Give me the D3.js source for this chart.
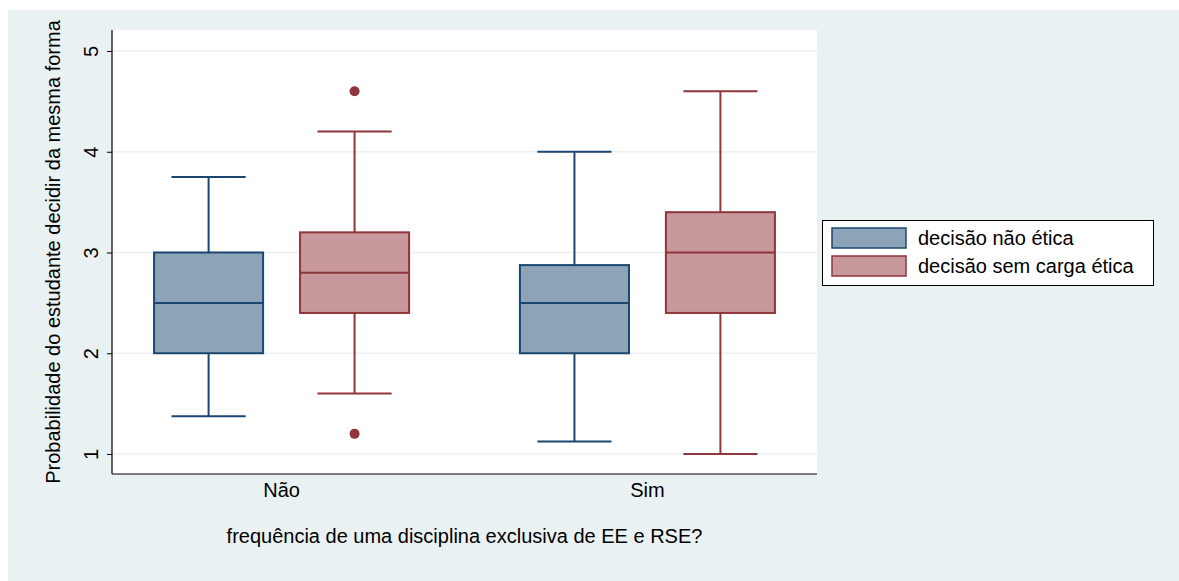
<!DOCTYPE html>
<html>
<head>
<meta charset="utf-8">
<script src="https://cdn.jsdelivr.net/npm/d3@7/dist/d3.min.js"></script>
<style>
  html, body { margin: 0; padding: 0; background: #ffffff; }
  svg { display: block; font-family: "Liberation Sans", Arial, Helvetica, sans-serif; }
</style>
</head>
<body>
<svg id="chart" width="1179" height="581"></svg>
<script>
// Groups on the x axis and the two series drawn in each group
const groups = ["Não", "Sim"];
const seriesNames = ["decisão não ética", "decisão sem carga ética"];

// Box statistics per group: [lower whisker, Q1, median, Q3, upper whisker]
const naoEtica = [
  [1.375, 2.0, 2.5, 3.0, 3.75],
  [1.125, 2.0, 2.5, 2.875, 4.0]
];
const semCargaEtica = [
  [1.6, 2.4, 2.8, 3.2, 4.2],
  [1.0, 2.4, 3.0, 3.4, 4.6]
];
// Outside values per group
const naoEticaOutliers = [[], []];
const semCargaEticaOutliers = [[4.6, 1.2], []];

const yTicks = [1, 2, 3, 4, 5];

const xTitle = "frequência de uma disciplina exclusiva de EE e RSE?";
const yTitle = "Probabilidade do estudante decidir da mesma forma";

const fills = ["#8ca3b8", "#c8999c"];
const strokes = ["#1a476f", "#90353b"];
const FS = 20;

const svg = d3.select("#chart");

// Outer graph region
svg.append("rect").attr("x", 8).attr("y", 10).attr("width", 1171).attr("height", 571)
  .attr("fill", "#eaf1f3");

const plot = { left: 112, right: 817, top: 30, bottom: 474 };
svg.append("rect").attr("x", plot.left).attr("y", plot.top)
  .attr("width", plot.right - plot.left).attr("height", plot.bottom - plot.top)
  .attr("fill", "#ffffff");

const y = d3.scaleLinear().domain([1, 5]).range([454, 51]);

// Group band and series sub-band
const x = d3.scaleBand().domain(groups).range([plot.left, plot.right])
  .paddingInner(0.303).paddingOuter(0.115);
const xs = d3.scaleBand().domain(seriesNames).range([0, x.bandwidth()])
  .paddingInner(0.253).paddingOuter(0);

// Grid lines
svg.append("g").selectAll("line").data(yTicks).join("line")
  .attr("x1", plot.left).attr("x2", plot.right)
  .attr("y1", d => y(d)).attr("y2", d => y(d))
  .attr("stroke", "#eaf1f3").attr("stroke-width", 1.5);

// Axes
const yAxis = d3.axisLeft(y).tickValues(yTicks).tickSize(5).tickFormat(d3.format("d"));
const gy = svg.append("g").attr("transform", `translate(${plot.left},0)`).call(yAxis);
gy.select(".domain").attr("d", `M0,${plot.top}V${plot.bottom}`).attr("stroke", "#000").attr("stroke-width", 1.2);
gy.selectAll(".tick line").attr("stroke", "#000");
gy.selectAll(".tick text").attr("font-size", FS).attr("fill", "#000")
  .attr("text-anchor", "middle").attr("x", 0).attr("y", 0).attr("dy", "0.35em")
  .attr("transform", "translate(-21,0) rotate(-90)");

const xAxis = d3.axisBottom(x).tickSize(0).tickPadding(9);
const gx = svg.append("g").attr("transform", `translate(0,${plot.bottom})`).call(xAxis);
gx.select(".domain").attr("d", `M${plot.left},0H${plot.right}`).attr("stroke", "#000").attr("stroke-width", 1.2);
gx.selectAll(".tick text").attr("font-size", FS).attr("fill", "#000");

// Axis titles
svg.append("text").attr("x", (plot.left + plot.right) / 2).attr("y", 543)
  .attr("text-anchor", "middle").attr("font-size", FS).attr("fill", "#000").text(xTitle);
svg.append("text").attr("transform", `translate(60,${(plot.top + plot.bottom) / 2}) rotate(-90)`)
  .attr("text-anchor", "middle").attr("font-size", FS).attr("fill", "#000").text(yTitle);

// Boxes
const seriesData = [naoEtica, semCargaEtica];
const outlierData = [naoEticaOutliers, semCargaEticaOutliers];
const boxLayer = svg.append("g");

seriesData.forEach((series, si) => {
  series.forEach((s, gi) => {
    const [lo, q1, med, q3, hi] = s;
    const bx = x(groups[gi]) + xs(seriesNames[si]);
    const bw = xs.bandwidth();
    const cx = bx + bw / 2;
    const capHalf = bw * 0.34;
    const g = boxLayer.append("g").attr("stroke", strokes[si]).attr("stroke-width", 2);
    // whiskers
    g.append("line").attr("x1", cx).attr("x2", cx).attr("y1", y(q3)).attr("y2", y(hi));
    g.append("line").attr("x1", cx).attr("x2", cx).attr("y1", y(q1)).attr("y2", y(lo));
    g.append("line").attr("x1", cx - capHalf).attr("x2", cx + capHalf).attr("y1", y(hi)).attr("y2", y(hi));
    g.append("line").attr("x1", cx - capHalf).attr("x2", cx + capHalf).attr("y1", y(lo)).attr("y2", y(lo));
    // box
    g.append("rect").attr("x", bx).attr("y", y(q3)).attr("width", bw).attr("height", y(q1) - y(q3))
      .attr("fill", fills[si]);
    g.append("line").attr("x1", bx).attr("x2", bx + bw).attr("y1", y(med)).attr("y2", y(med));
    // outside values
    outlierData[si][gi].forEach(v => {
      boxLayer.append("circle").attr("cx", cx).attr("cy", y(v)).attr("r", 5).attr("fill", strokes[si]);
    });
  });
});

// Legend
const leg = svg.append("g");
leg.append("rect").attr("x", 822.5).attr("y", 220.5).attr("width", 331).attr("height", 65)
  .attr("fill", "#ffffff").attr("stroke", "#000").attr("stroke-width", 1);
seriesNames.forEach((name, i) => {
  const yy = 228 + i * 28;
  leg.append("rect").attr("x", 832).attr("y", yy).attr("width", 74).attr("height", 20)
    .attr("fill", fills[i]).attr("stroke", strokes[i]).attr("stroke-width", 1.5);
  leg.append("text").attr("x", 918).attr("y", yy + 10).attr("dy", "0.35em")
    .attr("font-size", FS).attr("fill", "#000").text(name);
});
</script>
</body>
</html>
